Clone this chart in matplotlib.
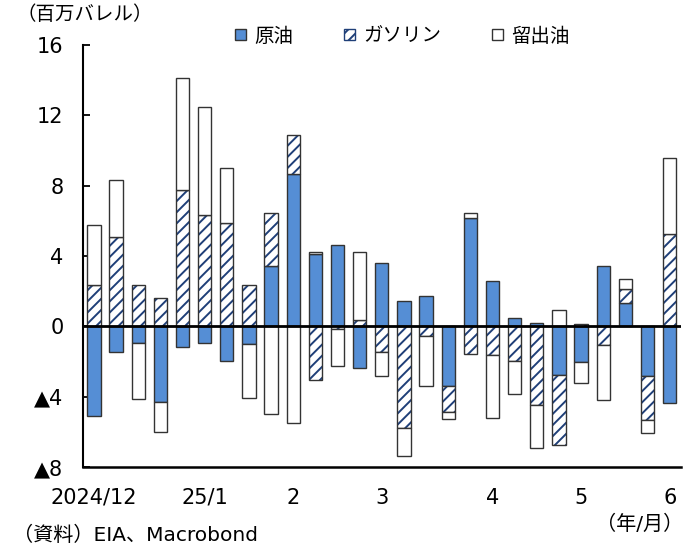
import matplotlib.pyplot as plt
import numpy as np

plt.rcParams['font.family'] = ['DejaVu Sans', 'Noto Sans CJK JP']
plt.rcParams['hatch.linewidth'] = 1.4

# weekly stock changes (million barrels)
crude = [-5.1, -1.45, -0.95, -4.3, -1.2, -0.95, -2.0, -1.0, 3.45, 8.65, 4.1, 4.6, -2.35, 3.6,
         1.45, 1.7, -3.4, 6.15, 2.55, 0.5, 0.2, -2.75, -2.05, 3.45, 1.3, -2.85, -4.35]
gasoline = [2.35, 5.1, 2.35, 1.6, 7.75, 6.35, 5.85, 2.35, 3.0, 2.25, -3.05, -0.15, 0.35, -1.45,
            -5.8, -0.55, -1.45, -1.55, -1.65, -2.0, -4.5, -4.0, 0.15, -1.05, 0.8, -2.45, 5.25]
distillate = [3.4, 3.2, -3.2, -1.7, 6.4, 6.1, 3.15, -3.1, -5.0, -5.5, 0.1, -2.1, 3.9, -1.35,
              -1.55, -2.85, -0.4, 0.3, -3.55, -1.85, -2.4, 0.95, -1.15, -3.15, 0.6, -0.75, 4.3]
tick_pos = [0, 5, 9, 13, 18, 22, 26]
tick_labels = ['2024/12', '25/1', '2', '3', '4', '5', '6']
yticks = [16, 12, 8, 4, 0, -4, -8]
ylabels = ['16', '12', '8', '4', '0', '▲4', '▲8']

fig = plt.figure(figsize=(6.86, 5.49), dpi=100)
ax = fig.add_axes([0.1208, 0.1494, 0.8716, 0.7686])

x = np.arange(len(crude))
w = 0.6
pos = np.zeros(len(x))
neg = np.zeros(len(x))
edge = '#333333'
navy = '#1f3f78'
handles = []
for vals, name, style in [(crude, '原油', 'crude'), (gasoline, 'ガソリン', 'gas'), (distillate, '留出油', 'dist')]:
    v = np.array(vals)
    bottom = np.where(v >= 0, pos, neg)
    if style == 'crude':
        h = ax.bar(x, v, w, bottom=bottom, color='#558ed5', edgecolor=edge, linewidth=1, label=name, zorder=2)
    elif style == 'gas':
        ax.bar(x, v, w, bottom=bottom, color='white', edgecolor=navy, hatch='///', linewidth=0, zorder=2)
        ax.bar(x, v, w, bottom=bottom, fill=False, edgecolor=edge, linewidth=1, zorder=2)
        h = plt.Rectangle((0, 0), 1, 1, facecolor='white', edgecolor=navy, hatch='///', linewidth=1, label=name)
    else:
        h = ax.bar(x, v, w, bottom=bottom, color='white', edgecolor=edge, linewidth=1, label=name, zorder=2)
    handles.append(h)
    pos = pos + np.where(v >= 0, v, 0)
    neg = neg + np.where(v < 0, v, 0)

ax.axhline(0, color='black', linewidth=2, zorder=3)
ax.set_xlim(-0.5, len(x) - 0.5)
ax.set_ylim(-8, 16)
ax.set_yticks(yticks)
ax.set_yticklabels(ylabels)
ax.set_xticks(tick_pos)
ax.set_xticklabels(tick_labels)
ax.tick_params(axis='y', direction='in', length=5, width=1.3, pad=14, labelsize=15)
ax.tick_params(axis='x', length=0, pad=15, labelsize=15)
for s in ['top', 'right']:
    ax.spines[s].set_visible(False)
ax.spines['left'].set_linewidth(1.5)
ax.spines['bottom'].set_linewidth(1.8)

fig.legend(handles=handles, loc='center left', bbox_to_anchor=(235 / 686, 1 - 36 / 549),
           ncol=3, frameon=False, fontsize=14, handlelength=0.55, handleheight=0.55,
           handletextpad=0.45, columnspacing=2.6, borderpad=0, borderaxespad=0)

fig.text(17 / 686, 1 - 14 / 549, '（百万バレル）', fontsize=14, va='center', ha='left')
fig.text(683 / 686, 1 - 524 / 549, '（年/月）', fontsize=14.5, va='center', ha='right')
fig.text(13 / 686, 1 - 535 / 549, '（資料）EIA、Macrobond', fontsize=14.5, va='center', ha='left')

fig.savefig('out.png', dpi=100)
